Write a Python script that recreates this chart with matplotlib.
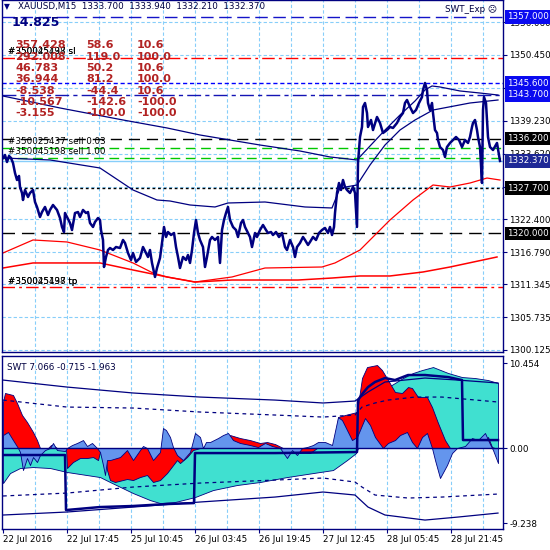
import matplotlib
matplotlib.use("Agg")
import matplotlib.pyplot as plt
from matplotlib.transforms import blended_transform_factory

plt.rcParams['font.family'] = ['DejaVu Sans']

# ---- main chart: XAUUSD M15 prices (bar index, price) ----
bar = [3, 5, 7, 9, 11, 13, 15, 17, 19, 20, 22, 23, 25, 28, 30, 33, 35, 37, 40, 42,
       45, 48, 50, 53, 57, 60, 62, 64, 65, 67, 70, 72, 75, 78, 80, 83, 86, 88, 90, 93,
       95, 98, 100, 101, 103, 104, 106, 108, 110, 113, 116, 120, 123, 125, 128, 131, 133, 136, 140, 143,
       146, 148, 150, 152, 155, 157, 160, 162, 164, 166, 168, 171, 174, 176, 178, 180, 183, 186, 188, 190,
       192, 194, 196, 198, 200, 203, 205, 207, 210, 212, 215, 218, 220, 222, 224, 226, 228, 230, 233, 236,
       238, 241, 243, 245, 248, 250, 252, 255, 257, 260, 263, 266, 268, 271, 273, 276, 279, 282, 285, 287,
       290, 293, 295, 297, 300, 303, 305, 308, 310, 313, 316, 319, 322, 325, 328, 330, 332, 334, 335, 337,
       339, 341, 343, 345, 347, 350, 353, 355, 357, 358, 360, 362, 363, 365, 367, 368, 371, 373, 377, 380,
       383, 387, 390, 393, 397, 400, 403, 405, 407, 410, 413, 416, 419, 422, 423, 425, 427, 428, 430, 432,
       433, 435, 437, 438, 440, 443, 445, 447, 450, 453, 456, 459, 462, 465, 468, 470, 472, 473, 475, 477,
       478, 480, 482, 483, 484, 486, 487, 488, 490, 493, 497, 500]
price = [1332.88, 1333.39, 1332.19, 1333.22, 1332.88, 1332.02, 1330.32, 1329.12, 1329.81, 1327.93,
         1326.91, 1325.71, 1327.42, 1326.22, 1326.91, 1327.42, 1325.37, 1324.52, 1322.81, 1323.66,
         1324.52, 1323.15, 1324.01, 1324.86, 1324.01, 1322.64, 1321.11, 1320.25, 1323.49, 1322.81,
         1321.79, 1320.59, 1323.49, 1323.66, 1322.81, 1324.01, 1323.49, 1323.66, 1321.79, 1321.11,
         1321.96, 1322.64, 1322.30, 1320.59, 1318.89, 1314.28, 1315.99, 1317.18, 1317.52, 1317.18,
         1317.69, 1317.52, 1318.89, 1318.38, 1316.67, 1315.48, 1316.67, 1315.14, 1315.82, 1317.69,
         1316.67, 1315.99, 1317.18, 1314.97, 1312.58, 1314.11, 1315.82, 1318.38, 1321.11, 1319.40,
         1320.25, 1319.74, 1320.08, 1317.69, 1315.99, 1314.11, 1315.99, 1315.48, 1316.33, 1314.97,
         1317.18, 1320.08, 1322.30, 1320.08, 1318.89, 1317.69, 1314.28, 1315.99, 1318.89, 1319.40,
         1318.89, 1319.40, 1314.97, 1320.59, 1322.30, 1323.49, 1324.52, 1322.30, 1321.11, 1320.59,
         1319.40, 1321.79, 1322.30, 1321.11, 1320.08, 1319.40, 1317.69, 1320.08, 1319.40, 1320.59,
         1321.45, 1320.59, 1320.08, 1320.25, 1319.74, 1320.25, 1319.40, 1320.08, 1317.69, 1317.18,
         1318.89, 1317.69, 1315.99, 1317.69, 1318.38, 1319.40, 1318.89, 1318.04, 1318.55, 1319.40,
         1318.89, 1320.08, 1320.59, 1320.94, 1320.08, 1321.11, 1319.74, 1321.11, 1323.49, 1326.91,
         1328.61, 1327.42, 1329.12, 1327.93, 1327.42, 1326.91, 1327.93, 1326.91, 1321.11, 1332.02,
         1336.46, 1338.17, 1341.58, 1342.26, 1340.55, 1338.17, 1339.36, 1337.65, 1339.87, 1338.85,
         1337.14, 1337.65, 1338.17, 1338.00, 1338.85, 1339.87, 1340.55, 1342.26, 1342.77, 1341.58,
         1340.55, 1341.06, 1342.26, 1343.28, 1344.48, 1345.67, 1344.48, 1342.26, 1341.06, 1342.26,
         1340.55, 1337.65, 1337.14, 1335.95, 1334.75, 1334.24, 1333.05, 1334.75, 1335.44, 1335.95,
         1336.46, 1335.95, 1334.75, 1335.95, 1335.44, 1336.46, 1338.17, 1338.85, 1339.36, 1337.65,
         1336.46, 1334.75, 1328.61, 1341.06, 1343.28, 1342.26, 1339.36, 1336.46, 1334.75, 1334.24,
         1335.44, 1332.37]

ma1_bar = [3, 60, 123, 167, 200, 260, 300, 330, 357, 370, 385, 400, 415, 425, 432, 440, 460, 480, 498]
ma1 = [1343.45, 1341.41, 1339.36, 1338.00, 1336.80, 1335.09, 1334.07, 1333.05, 1332.54, 1334.92,
       1337.65, 1340.21, 1342.60, 1344.48, 1345.16, 1344.99, 1344.31, 1343.96, 1343.62]
ma2_bar = [3, 50, 100, 133, 157, 170, 190, 215, 228, 265, 305, 332, 340, 357, 370, 385, 400, 415, 433, 470, 498]
ma2 = [1332.88, 1332.54, 1331.17, 1327.42, 1325.71, 1325.54, 1324.86, 1324.52, 1325.20, 1325.37,
       1324.52, 1324.35, 1327.76, 1328.27, 1331.68, 1335.09, 1337.65, 1339.36, 1341.06, 1342.26, 1342.77]
red1_bar = [3, 33, 67, 100, 133, 153, 167, 195, 232, 265, 322, 335, 360, 390, 413, 433, 450, 470, 487, 500]
red1 = [1316.67, 1318.89, 1318.55, 1317.18, 1314.97, 1313.26, 1312.58, 1311.72, 1312.58, 1314.11,
        1314.28, 1314.97, 1317.18, 1322.30, 1325.71, 1328.27, 1327.93, 1328.61, 1329.46, 1329.12]
red2_bar = [3, 33, 100, 133, 167, 195, 232, 298, 332, 360, 390, 423, 450, 497]
red2 = [1314.11, 1314.97, 1314.97, 1313.77, 1312.58, 1311.72, 1312.06, 1312.06, 1312.40, 1312.75,
        1312.75, 1313.43, 1314.28, 1315.99]

# horizontal order / level lines
levels = [1357.0, 1349.9, 1345.6, 1343.7, 1336.2, 1334.6, 1332.9, 1332.37, 1327.7, 1320.0, 1310.9]
boxed = [1357.0, 1345.6, 1343.7, 1336.2, 1332.37, 1327.7, 1320.0]

price_ticks = [1356.060, 1350.450, 1344.840, 1339.230, 1333.620, 1328.010,
               1322.400, 1316.790, 1311.345, 1305.735, 1300.125]
hidden_ticks = [1344.840, 1328.010]   # covered by the order boxes

# red statistics table (top left)
col1 = [357.428, 292.008, 46.783, 36.944, -8.538, -10.567, -3.155]
col2 = [58.6, 119.0, 50.2, 81.2, -44.4, -142.6, -100.0]
col3 = [10.6, 100.0, 10.6, 100.0, 10.6, -100.0, -100.0]

# ---- SWT indicator ----
turq_bar = [3, 10, 20, 33, 50, 67, 100, 110, 133, 150, 160, 175, 195, 213, 237, 260, 287, 313, 333, 347,
            356, 358, 362, 370, 380, 395, 403, 413, 422, 433, 448, 462, 475, 488, 498]
turq = [-4.31, -3.08, -2.46, -2.34, -2.46, -2.95, -3.57, -4.18, -5.54, -6.40, -6.77, -6.64, -6.03, -5.17,
        -4.55, -4.18, -3.57, -3.08, -2.71, -1.48, -0.62, 0.0, 2.21, 5.29, 6.89, 8.00, 8.61, 9.23, 9.59,
        9.96, 9.23, 8.73, 8.61, 8.36, 8.00]
red_bar = [3, 5, 13, 17, 22, 27, 33, 37, 40, 48, 51, 54, 57, 66, 67, 73, 80, 87, 93, 98,
           101, 105, 107, 110, 115, 127, 133, 140, 147, 153, 160, 167, 177, 180, 187, 193, 200, 226, 230, 240,
           250, 260, 267, 275, 283, 296, 300, 310, 317, 336, 338, 345, 357, 362, 367, 377, 382, 388, 395, 402,
           408, 412, 418, 427, 432, 438, 445, 450, 475, 478, 483, 488, 492, 495]
red = [5.66, 6.77, 6.52, 5.54, 4.06, 3.20, 1.97, 0.98, 0.0, 0.0, 0.37, 0.25, 0.0, 0.0, -2.46, -1.72,
       -1.23, -1.23, -1.11, -1.48, 0.0, 0.0, -2.71, -3.94, -4.18, -3.81, -3.94, -3.57, -3.32, -4.18,
       -3.94, -3.08, -1.48, -1.85, -1.11, -0.25, 0.0, 0.0, 1.60, 1.23, 0.98, 0.62, 0.74, 0.49, 0.0, 0.0,
       -0.49, -0.62, 0.0, 0.0, 3.81, 4.06, 4.43, 8.61, 9.96, 10.21, 9.59, 8.36, 6.89, 6.77, 7.50, 7.38,
       6.27, 6.27, 5.04, 3.08, 0.98, 0.0, 0.0, 0.98, 0.74, 1.35, 0.12, 0.0]
blue_bar = [3, 8, 13, 18, 20, 23, 27, 30, 33, 37, 40, 45, 50, 53, 57, 65, 67, 72, 77, 83,
            87, 92, 97, 100, 103, 105, 107, 110, 120, 127, 133, 140, 143, 147, 153, 160, 163, 166, 170, 173,
            177, 183, 190, 195, 200, 203, 206, 210, 218, 223, 228, 233, 240, 250, 258, 265, 272, 280, 287, 292,
            297, 302, 307, 313, 318, 325, 332, 338, 342, 347, 352, 357, 365, 370, 375, 383, 388, 395, 400, 407,
            412, 417, 422, 427, 432, 435, 440, 447, 452, 457, 465, 472, 478, 485, 489, 493, 498]
blue = [1.60, 1.97, 0.98, 0.0, -0.49, -2.71, -1.23, -2.09, -1.11, -1.72, -0.86, -0.25, 0.0, 0.62, -0.25,
        -0.37, 0.0, 0.37, 0.62, 0.98, 0.25, 0.62, 0.0, -0.49, -2.09, -3.32, -1.48, -1.48, -1.11, -0.25,
        -1.48, -0.25, 0.25, 0.0, -1.48, -0.49, 2.46, 2.21, 1.35, 0.12, -0.86, -1.48, -0.49, 1.85, 1.35,
        0.0, 0.74, 0.74, 1.23, 1.60, 1.85, 0.98, 0.62, 0.37, 0.12, 0.62, 0.25, 0.0, -1.23, -0.25, -0.86,
        0.0, 0.12, 0.37, 0.74, 0.74, 0.37, 3.81, 3.44, 2.21, 0.98, 1.35, 3.69, 2.83, 1.35, 0.0, 0.62,
        0.98, 1.60, 1.97, 0.74, 0.0, 1.35, 1.85, 0.0, -1.48, -3.69, -2.09, -0.62, 0.0, 0.25, 1.23, 0.98,
        1.85, 0.74, -0.25, -1.85]
step_bar = [3, 65, 66, 100, 133, 167, 194, 195, 275, 357, 358, 363, 368, 375, 385, 395, 408, 425, 448, 462, 463, 498]
step = [-0.86, -0.86, -7.63, -7.26, -7.13, -6.89, -6.77, -0.62, -0.62, -0.49, 5.90, 6.77, 7.50, 8.12,
        8.61, 8.36, 8.98, 8.98, 8.73, 8.36, 0.98, 0.98]
band_bar = [3, 67, 133, 200, 275, 323, 355, 368, 385, 425, 458, 498]
upper_solid = [8.36, 7.50, 6.77, 6.27, 5.90, 5.54, 5.78, 6.89, 8.12, 8.61, 8.36, 8.00]
lower_solid = [-8.24, -7.87, -7.26, -6.64, -6.03, -5.41, -5.78, -7.26, -8.24, -8.86, -8.49, -8.00]
udash_bar = [3, 67, 133, 200, 275, 323, 355, 362, 375, 388, 415, 442, 498]
upper_dash = [5.90, 5.04, 4.92, 4.43, 4.06, 3.81, 4.06, 5.04, 5.54, 5.90, 6.27, 6.27, 5.66]
ldash_bar = [3, 67, 133, 200, 275, 323, 355, 362, 375, 408, 442, 498]
lower_dash = [-5.90, -5.54, -4.80, -4.31, -3.94, -3.69, -4.18, -4.80, -5.78, -6.15, -6.03, -5.66]

date_pos = [3, 67, 131, 195, 259, 323, 387, 451]
date_labels = ['22 Jul 2016', '22 Jul 17:45', '25 Jul 10:45', '26 Jul 03:45',
               '26 Jul 19:45', '27 Jul 12:45', '28 Jul 05:45', '28 Jul 21:45']

NAVY = '#000080'
GRID = '#87CEFA'
FS = 6.3
W = 550.0


def fx(px):
    return px / W


def fy(py):
    return 1 - py / W


fig = plt.figure(figsize=(5.5, 5.5), dpi=100)
fig.patch.set_facecolor('white')

ax = fig.add_axes([fx(2), fy(352), 501 / W, 352 / W])
axi = fig.add_axes([fx(2), fy(529), 501 / W, (529 - 356) / W])
ax.set_xlim(2, 503)
ax.set_ylim(1299.78, 1359.83)
axi.set_xlim(2, 503)
axi.set_ylim(-9.96, 11.32)

for a in (ax, axi):
    for s in a.spines.values():
        s.set_color(NAVY)
        s.set_linewidth(1.0)
    for gx in range(35, 500, 32):
        a.axvline(gx, color=GRID, lw=0.8, ls=(0, (3, 2)), zorder=0)

# main chart
ax.yaxis.tick_right()
ax.set_yticks(price_ticks)
ax.set_yticklabels(['' if t in hidden_ticks else f'{t:.3f}' for t in price_ticks])
ax.tick_params(axis='y', direction='out', length=3, color=NAVY, labelsize=FS, pad=1.5)
ax.tick_params(axis='x', bottom=False, labelbottom=False)
for t in price_ticks:
    ax.axhline(t, color=GRID, lw=0.8, ls=(0, (3, 2)), zorder=0)

styles = [
    ('#1414C8', (0, (9, 4))),
    ('red', (0, (9, 3, 2, 3))),
    ('blue', (0, (3, 2))),
    ('#1414B4', (0, (10, 3, 3, 3))),
    ('black', (0, (8, 5))),
    ('#00C800', (0, (7, 4))),
    ('#00C800', (0, (7, 4))),
    (GRID, '-'),
    ('black', (0, (2, 2))),
    ('black', (0, (9, 5))),
    ('red', (0, (9, 3, 2, 3))),
]
for lv, (c, ls) in zip(levels, styles):
    ax.axhline(lv, color=c, lw=1.0, ls=ls, zorder=1)

ax.plot(red1_bar, red1, color='red', lw=0.9, zorder=2)
ax.plot(red2_bar, red2, color='red', lw=1.1, zorder=2)
ax.plot(ma1_bar, ma1, color=NAVY, lw=0.9, zorder=2)
ax.plot(ma2_bar, ma2, color=NAVY, lw=0.9, zorder=2)
ax.plot(bar, price, color=NAVY, lw=1.8, zorder=3)

trans = blended_transform_factory(ax.transAxes, ax.transData)
box_colors = ['#0A0AF0', '#0A0AF0', '#0A0AF0', 'black', '#1E2896', 'black', 'black']
for lv, c in zip(boxed, box_colors):
    ax.text(1.009, lv, f'{lv:.3f}', transform=trans, color='white', fontsize=FS,
            va='center', ha='left', clip_on=False, zorder=10,
            bbox=dict(boxstyle='square,pad=0.28', fc=c, ec='none'))

# order labels
for lab in ['#350025437 sl', '#350045198 sl']:
    fig.text(fx(8), fy(52), lab, fontsize=FS, color='black', va='center')
fig.text(fx(8), fy(142), '#350025437 sell 0.03', fontsize=FS, color='black', va='center')
fig.text(fx(8), fy(152), '#350045198 sell 1.00', fontsize=FS, color='black', va='center')
for lab in ['#350025437 tp', '#350045198 tp']:
    fig.text(fx(8), fy(282), lab, fontsize=FS, color='black', va='center')

# header
fig.text(fx(4), fy(7), '\u25BC', fontsize=5.5, color=NAVY, va='center')
fig.text(fx(18), fy(7), 'XAUUSD,M15  1333.700  1333.940  1332.210  1332.370',
         fontsize=FS, color='#000040', va='center')
fig.text(fx(445), fy(10), 'SWT_Exp \u2639', fontsize=FS, color='#000040', va='center')
fig.text(fx(12), fy(23), '14.825', fontsize=9, fontweight='bold', color=NAVY, va='center')

rows_y = [45, 57, 68, 79, 91, 102, 113]
for yy, a, b, c in zip(rows_y, col1, col2, col3):
    for xx, s in ((15, f'{a:.3f}'), (86, f'{b:.1f}'), (137, f'{c:.1f}')):
        fig.text(fx(xx), fy(yy), s, fontsize=8, fontweight='bold', color='#B22222',
                 va='center', zorder=5)

# indicator panel
axi.fill_between(turq_bar, 0, turq, color='#40E0D0', lw=0.6, edgecolor=NAVY, zorder=2)
axi.fill_between(red_bar, 0, red, color='red', lw=0.6, edgecolor=NAVY, zorder=3)
axi.fill_between(blue_bar, 0, blue, color='#6495ED', lw=0.6, edgecolor=NAVY, zorder=4)
axi.axhline(0, color=NAVY, lw=1.0, zorder=5)
axi.plot(band_bar, upper_solid, color=NAVY, lw=0.9, zorder=5)
axi.plot(band_bar, lower_solid, color=NAVY, lw=0.9, zorder=5)
axi.plot(udash_bar, upper_dash, color=NAVY, lw=0.9, ls=(0, (3, 3)), zorder=5)
axi.plot(ldash_bar, lower_dash, color=NAVY, lw=0.9, ls=(0, (3, 3)), zorder=5)
axi.plot(step_bar, step, color=NAVY, lw=1.8, zorder=6)

axi.yaxis.tick_right()
axi.set_yticks([10.454, 0.0, -9.238])
axi.set_yticklabels(['10.454', '0.00', '-9.238'])
axi.tick_params(axis='y', direction='out', length=3, color=NAVY, labelsize=FS, pad=1.5)
axi.set_xticks(date_pos)
axi.set_xticklabels(date_labels, ha='left')
axi.tick_params(axis='x', direction='out', length=3, color=NAVY, labelsize=FS, pad=1.0)
axi.text(0.01, 0.935, 'SWT 7.066 -0.715 -1.963', transform=axi.transAxes,
         fontsize=FS, color='#000040', va='center')

fig.savefig('out.png', dpi=100, facecolor='white')
